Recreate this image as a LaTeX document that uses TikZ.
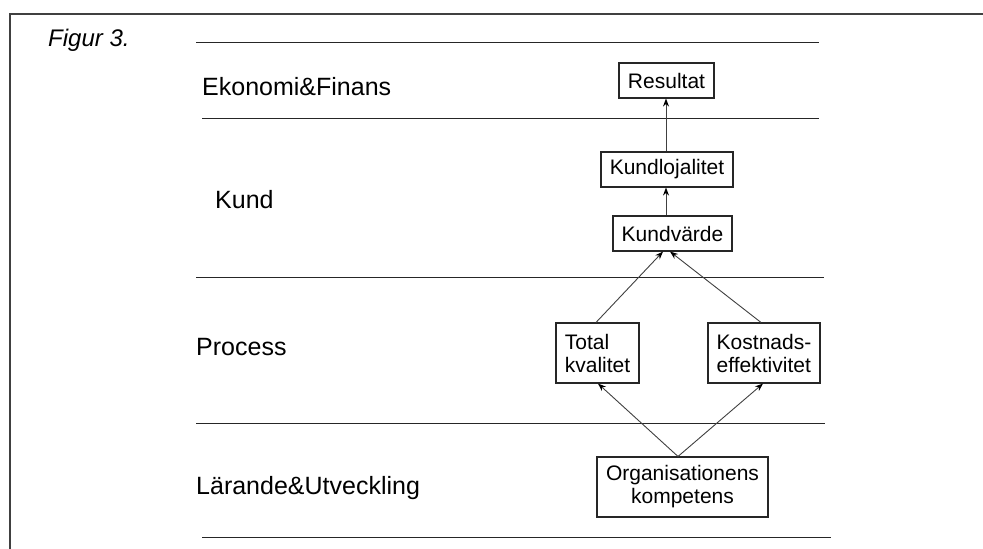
\documentclass[tikz,border=0pt]{standalone}
\usepackage{fontspec}
\setmainfont{Liberation Sans}
\usetikzlibrary{arrows.meta}
\begin{document}
\begin{tikzpicture}[x=1pt,y=-1pt,
  rule/.style={line width=1pt, black!85},
  frame/.style={line width=1.4pt, black!75},
  level/.style={anchor=west, inner sep=0pt, font=\fontsize{25}{28}\selectfont},
  box/.style={draw, line width=1.1pt, black!85, text=black, inner sep=0pt,
    font=\fontsize{21}{23}\selectfont},
  conn/.style={line width=0.9pt, black!75, -{Stealth[length=8pt,width=6pt,black]}}]
\useasboundingbox (0,0) rectangle (983,549);
% frame
\coordinate (fbl) at (10,549);
\coordinate (ftl) at (10,14);
\coordinate (ftr) at (983,14);
\draw[frame] (fbl) -- (ftl) -- (ftr);
\node[anchor=west, inner sep=0pt, font=\fontsize{24}{28}\selectfont\itshape] (fig) at (48,40) {Figur 3.};
% rules
\draw[rule] (196,42) -- (819,42);
\draw[rule] (202,118.5) -- (819,118.5);
\draw[rule] (196,277) -- (824,277);
\draw[rule] (196,423) -- (825,423);
\draw[rule] (202,537.5) -- (831,537.5);
% level labels
\node[level] (ek) at (202,87) {Ekonomi\&Finans};
\node[level] (ku) at (215,200) {Kund};
\node[level] (pr) at (196,347) {Process};
\node[level] (la) at (196,488) {Lärande\&Utveckling};
% boxes
\node[box, minimum width=95pt, minimum height=35pt] (res) at (666.5,80.5) {Resultat};
\node[box, minimum width=132pt, minimum height=35pt] (kl) at (667,169.5) {Kundlojalitet};
\node[box, minimum width=119pt, minimum height=35pt] (kv) at (672.5,233.5) {Kundvärde};
\node[box, minimum width=83pt, minimum height=60pt, align=left] (tk) at (597.5,353) {Total\\kvalitet};
\node[box, minimum width=112pt, minimum height=60pt, align=left] (ke) at (764,353) {Kostnads-\\effektivitet};
\node[box, minimum width=171pt, minimum height=60pt, align=center] (ok) at (682.5,487) {Organisationens\\kompetens};
% connectors
\draw[conn] ([xshift=-1pt]kl.north) -- ([xshift=-0.5pt]res.south);
\draw[conn] ([xshift=-6.5pt]kv.north) -- ([xshift=-1pt]kl.south);
\draw[conn] ([xshift=-1.5pt]tk.north) -- ([xshift=-9.5pt]kv.south);
\draw[conn] ([xshift=-3pt]ke.north) -- ([xshift=-2.5pt]kv.south);
\draw[conn] ([xshift=-4.5pt]ok.north) -- ([xshift=0.5pt]tk.south);
\draw[conn] ([xshift=-4.5pt]ok.north) -- ([xshift=-1pt]ke.south);
\end{tikzpicture}
\end{document}
